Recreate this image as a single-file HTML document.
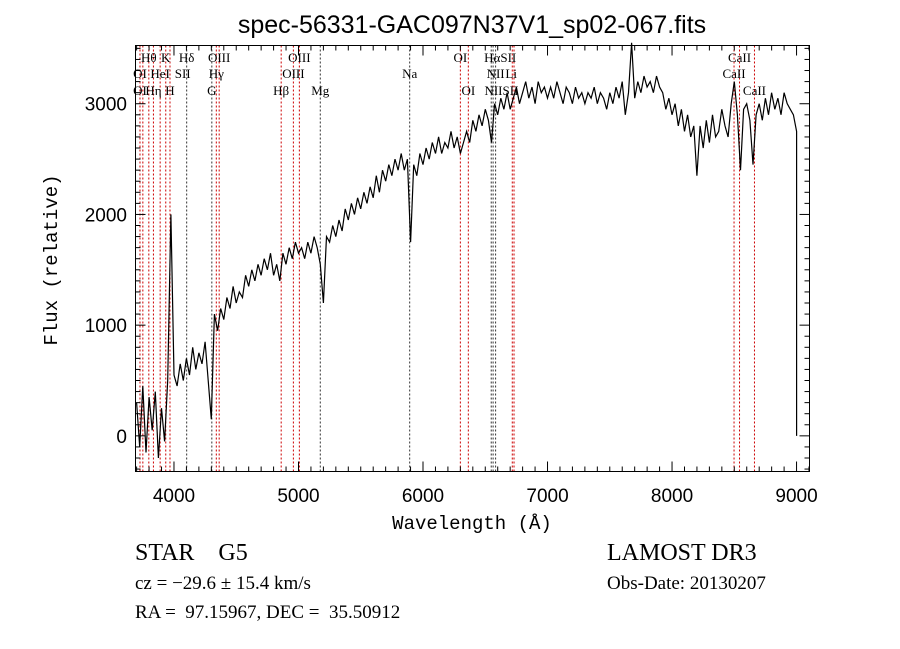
<!DOCTYPE html>
<html><head><meta charset="utf-8"><style>
html,body{margin:0;padding:0;background:#fff;}
svg{display:block;}
</style></head><body>
<svg id="chart" width="900" height="649" xmlns="http://www.w3.org/2000/svg">
<rect x="0" y="0" width="900" height="649" fill="#fff"/>
<text x="472" y="33" text-anchor="middle" font-family="Liberation Sans, sans-serif" font-size="25" fill="#000">spec-56331-GAC097N37V1_sp02-067.fits</text>
<g id="lines"></g>
<g id="axes"></g>
<path id="spectrum" fill="none" stroke="#000" stroke-width="1.2"/>
<rect x="135.5" y="45.5" width="674" height="426" fill="none" stroke="#000" stroke-width="1"/>
<text x="472" y="529" text-anchor="middle" font-family="Liberation Mono, monospace" font-size="19">Wavelength (Å)</text>
<text transform="translate(57,260) rotate(-90)" text-anchor="middle" font-family="Liberation Mono, monospace" font-size="19">Flux (relative)</text>
<text x="135" y="560" font-family="Liberation Serif, serif" font-size="24" xml:space="preserve">STAR    G5</text>
<text x="607" y="560" font-family="Liberation Serif, serif" font-size="24">LAMOST DR3</text>
<text x="135" y="589" font-family="Liberation Serif, serif" font-size="19">cz = −29.6 ± 15.4 km/s</text>
<text x="607" y="589" font-family="Liberation Serif, serif" font-size="19">Obs-Date: 20130207</text>
<text x="135" y="618" font-family="Liberation Serif, serif" font-size="19" xml:space="preserve">RA =  97.15967, DEC =  35.50912</text>
</svg>
<script>
const waveStart = 3700;
const waveStep = 25;
const flux = [300,-100,450,-150,350,50,400,-200,250,-50,500,2000,550,
450,650,500,700,550,800,600,750,650,850,500,150,
1100,950,1150,1050,1250,1150,1350,1200,1300,1250,1450,1350,
1500,1400,1550,1450,1600,1500,1650,1450,1550,1400,1650,1550,
1700,1600,1750,1650,1700,1600,1750,1650,1800,1700,1550,1200,
1800,1750,1900,1800,1950,1850,2050,1950,2100,2000,2150,2050,
2200,2100,2250,2150,2350,2200,2400,2300,2450,2350,2500,2400,
2550,2400,2500,1750,2450,2350,2550,2450,2600,2500,2650,2550,
2700,2550,2650,2600,2750,2600,2700,2550,2650,2750,2650,2850,
2750,2900,2800,2950,2850,2650,3000,2900,3050,2950,3100,2950,
3050,3150,3000,3100,3200,3050,3150,3000,3200,3100,3150,3050,
3150,3050,3200,3100,3000,3150,3100,3000,3150,3050,3100,3000,
3100,3050,3150,3000,3100,3050,2950,3100,3000,3150,3050,3200,
2900,3100,3550,3050,3200,3100,3250,3150,3200,3100,3250,3150,
3100,2950,3050,2900,3000,2800,2950,2750,2900,2700,2800,2350,
2800,2600,2850,2650,2900,2700,2750,2950,2800,2700,3000,3200,
2900,2400,2950,3000,2850,2450,2900,3000,2850,3050,2900,3100,
2950,3050,2900,3100,3000,2950,2900,2750,0];
const lineWaves = [3727,3750,3798,3835,3889,3934,3968,4102,4304,4340,4363,4861,4959,5007,5175,5893,6300,6364,6548,6563,6583,6717,6731,8498,8542,8662];
const lineRed = [1,1,1,1,1,1,1,0,0,1,1,1,1,1,0,0,1,1,0,0,0,1,1,1,1,1];
const xTicks = [4000,5000,6000,7000,8000,9000];
const yTicks = [0,1000,2000,3000];
const X0=135.5,X1=809.5,Y0=45.5,Y1=471.5,WMIN=3691,WMAX=9104,FMIN=-322,FMAX=3526;
function xs(w){return X0+(w-WMIN)/(WMAX-WMIN)*(X1-X0);}
function ys(f){return Y1-(f-FMIN)/(FMAX-FMIN)*(Y1-Y0);}
const NS="http://www.w3.org/2000/svg";
function mk(tag,attrs,parent){const e=document.createElementNS(NS,tag);for(const k in attrs)e.setAttribute(k,attrs[k]);parent.appendChild(e);return e;}
const lg=document.getElementById('lines');
lineWaves.forEach((w,i)=>{
  const l=mk('line',{x1:xs(w),x2:xs(w),y1:Y0,y2:Y1,stroke:lineRed[i]?'#c00':'#333','stroke-width':1,'stroke-dasharray':'2,2'},lg);
  
  
});
const labels=[["Hθ",3798,62],["K",3934,62],["Hδ",4102,62],["OIII",4363,62],["OIII",5007,62],["OI",3727,78],["HeI",3889,78],["SII",4070,78],["Hγ",4340,78],["OIII",4959,78],["OI",3727,95],["Hη",3835,95],["H",3968,95],["G",4304,95],["Hβ",4861,95],["Mg",5175,95],["Na",5893,78],["OI",6300,62],["HαSII",6620,62],["NII",6583,78],["Li",6708,78],["OI",6364,95],["NIISII",6630,95],["CaII",8542,62],["CaII",8498,78],["CaII",8662,95]];
labels.forEach(a=>{
  const t=mk('text',{x:xs(a[1]),y:a[2],'text-anchor':'middle','font-family':'Liberation Serif, serif','font-size':13},lg);
  t.textContent=a[0];
  
  
});
const ax=document.getElementById('axes');
for(let w=3700;w<=9100;w+=100){
  const maj=w%1000===0;const L=maj?10:5;
  mk('line',{x1:xs(w),x2:xs(w),y1:Y1,y2:Y1-L,stroke:'#000'},ax);
  mk('line',{x1:xs(w),x2:xs(w),y1:Y0,y2:Y0+L,stroke:'#000'},ax);
}
for(let f=-300;f<=3500;f+=100){
  const maj=f%1000===0;const L=maj?10:5;
  mk('line',{x1:X0,x2:X0+L,y1:ys(f),y2:ys(f),stroke:'#000'},ax);
  mk('line',{x1:X1,x2:X1-L,y1:ys(f),y2:ys(f),stroke:'#000'},ax);
}
xTicks.forEach(w=>{
  const t=mk('text',{x:xs(w),y:502,'text-anchor':'middle','font-family':'Liberation Sans, sans-serif','font-size':19},ax);
  t.textContent=w;
  
  
});
yTicks.forEach(f=>{
  const t=mk('text',{x:127,y:ys(f)+7,'text-anchor':'end','font-family':'Liberation Sans, sans-serif','font-size':19},ax);
  t.textContent=f;
  
  
});
let d='';
flux.forEach((f,i)=>{const w=Math.min(waveStart+waveStep*i,9000);d+=(i?'L':'M')+xs(w).toFixed(1)+','+ys(f).toFixed(1);});
document.getElementById('spectrum').setAttribute('d',d);
</script>
</body></html>
